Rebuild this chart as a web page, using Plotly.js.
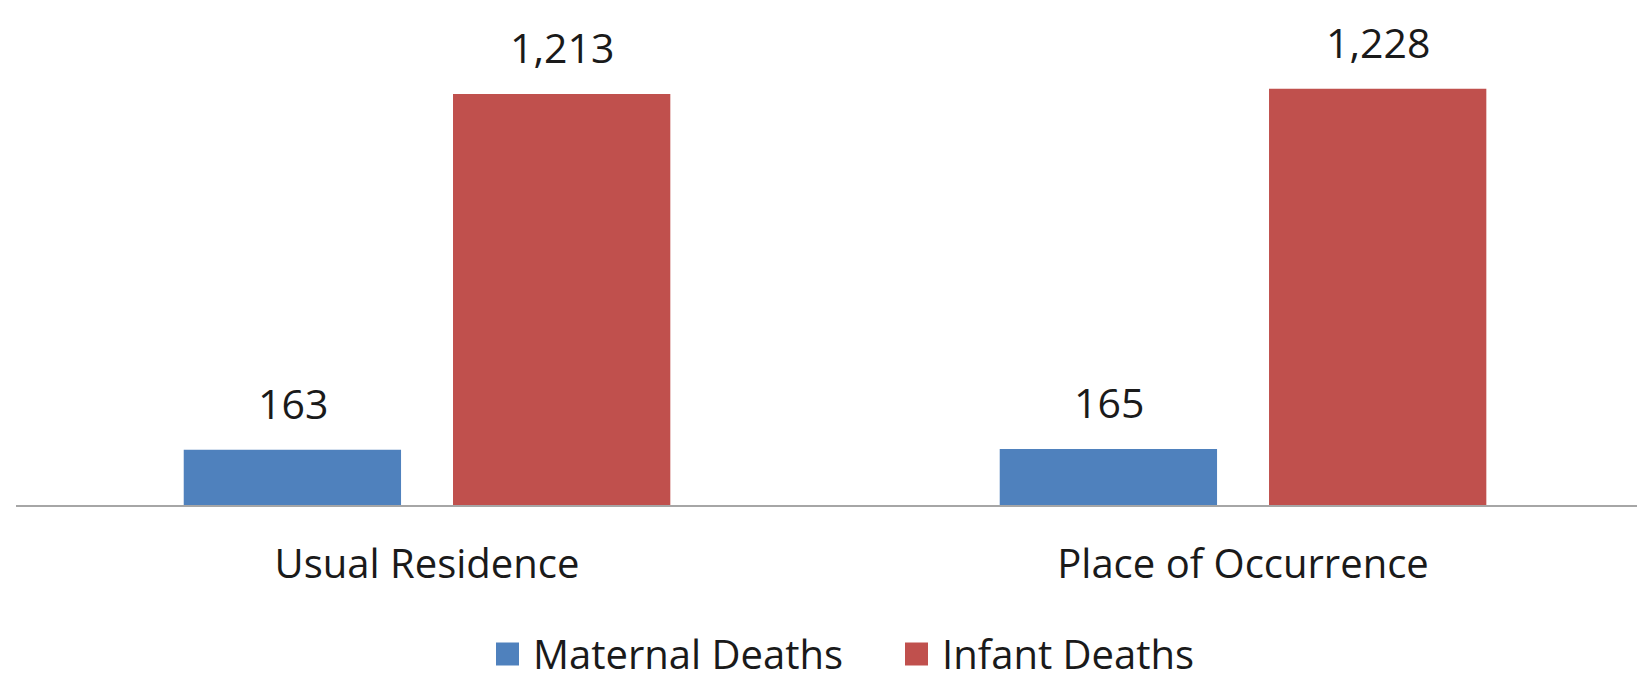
<!DOCTYPE html>
<html>
<head>
<meta charset="utf-8">
<script src="https://cdn.plot.ly/plotly-3.0.1.min.js"></script>
<style>html,body{margin:0;padding:0;background:#fff;}#chart{width:1637px;height:681px;}</style>
</head>
<body>
<div id="chart"></div>
<script>
const categories = ["Usual Residence", "Place of Occurrence"];
const seriesNames = ["Maternal Deaths", "Infant Deaths"];
const maternalDeaths = [163, 165];
const infantDeaths = [1213, 1228];
const seriesColors = ["#4F81BD", "#C0504D"];

const seriesValues = [maternalDeaths, infantDeaths];
const FONT = "'Open Sans', 'Noto Sans', sans-serif";
const TEXT_COLOR = "#1a1a1a";

const W = 1637, H = 681;
const M = {l: 16, r: 0, t: 0, b: 176};
const PW = W - M.l - M.r, PH = H - M.t - M.b;
const px2x = px => (px - M.l) / PW;
const px2y = py => (H - M.b - py) / PH;

const traces = seriesValues.map((vals, i) => ({
  type: "bar",
  name: seriesNames[i],
  x: categories,
  y: vals,
  marker: {color: seriesColors[i], line: {width: 0}},
  showlegend: false,
  hoverinfo: "x+y+name"
}));

// data labels above bars (offset within group in px)
const slotPx = 269;
const annotations = [];
seriesValues.forEach((vals, i) => {
  const off = (i - (seriesValues.length - 1) / 2) * slotPx;
  vals.forEach((v, j) => {
    annotations.push({
      x: categories[j], y: v, xref: "x", yref: "y",
      text: v.toLocaleString("en-US"),
      showarrow: false, xshift: off, yanchor: "middle", yshift: 47,
      font: {family: FONT, size: 41, color: TEXT_COLOR}
    });
  });
});

// legend (custom, larger swatches)
const legendSwatchLeft = [496, 905];
const legendSwatchSize = 23;
const legendCenterY = 653;
const shapes = [];
seriesNames.forEach((name, i) => {
  const x0 = legendSwatchLeft[i];
  shapes.push({
    type: "rect", xref: "paper", yref: "paper",
    x0: px2x(x0), x1: px2x(x0 + legendSwatchSize),
    y0: px2y(legendCenterY + 1 - legendSwatchSize / 2), y1: px2y(legendCenterY + 1 + legendSwatchSize / 2),
    fillcolor: seriesColors[i], line: {width: 0}
  });
  annotations.push({
    xref: "paper", yref: "paper",
    x: px2x(x0 + legendSwatchSize + 12), y: px2y(legendCenterY),
    xanchor: "left", yanchor: "middle", showarrow: false,
    text: name,
    font: {family: FONT, size: 40, color: TEXT_COLOR}
  });
});

const layout = {
  width: W, height: H,
  margin: {l: M.l, r: M.r, t: M.t, b: M.b, autoexpand: false},
  paper_bgcolor: "#fff", plot_bgcolor: "#fff",
  barmode: "group",
  bargap: 0.34,
  bargroupgap: 0.193,
  showlegend: false,
  xaxis: {
    type: "category",
    range: [-0.5037, 1.4828],
    showline: true, linecolor: "#A6A6A6", linewidth: 2,
    ticks: "", showgrid: false, zeroline: false,
    tickfont: {family: FONT, size: 40, color: TEXT_COLOR},
    ticklabelstandoff: 23,
    automargin: false
  },
  yaxis: {
    range: [0, 1490],
    showticklabels: false, showgrid: false, zeroline: false, showline: false, ticks: "",
    automargin: false
  },
  shapes: shapes,
  annotations: annotations,
  font: {family: FONT, color: TEXT_COLOR}
};

Plotly.newPlot("chart", traces, layout, {displayModeBar: false, staticPlot: true});
</script>
</body>
</html>
